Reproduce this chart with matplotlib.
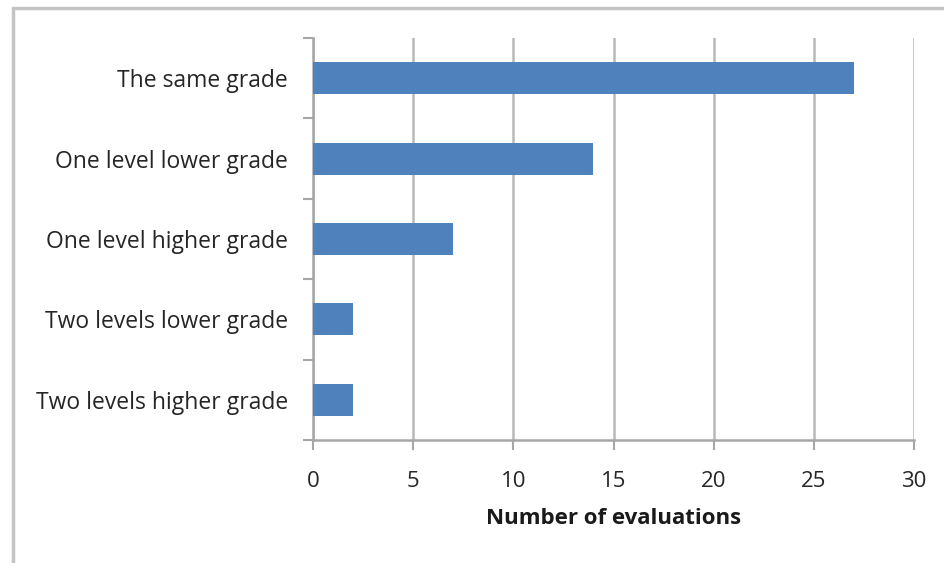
import matplotlib.pyplot as plt
from matplotlib.patches import Rectangle

categories = ['Two levels higher grade', 'Two levels lower grade', 'One level higher grade',
              'One level lower grade', 'The same grade']
counts = [2, 2, 7, 14, 27]
xticks = [0, 5, 10, 15, 20, 25, 30]

plt.rcParams['font.family'] = ['Open Sans', 'DejaVu Sans']

fig = plt.figure(figsize=(9.44, 5.63), dpi=100)
ax = fig.add_axes([313 / 944, 1 - 440 / 563, (914 - 313) / 944, (440 - 38) / 563])

# outer chart border (cut off on right and bottom)
fig.patches.append(Rectangle((13 / 944, -0.1), 1.2, 1.1 - 8 / 563, transform=fig.transFigure,
                             fill=False, edgecolor='#c4c4c4', linewidth=2.5))

ypos = range(len(categories))
ax.barh(ypos, counts, height=0.4, color='#4f81bd', zorder=3)

ax.set_xlim(0, 30)
ax.set_ylim(-0.5, len(categories) - 0.5)
ax.set_xticks(xticks)
ax.set_xticklabels([str(t) for t in xticks], fontsize=16, color='#262626')
ax.set_yticks([i - 0.5 for i in range(len(categories) + 1)])
ax.set_yticklabels([])
ax.set_yticks(list(ypos), minor=True)
ax.set_yticklabels(categories, minor=True, fontsize=16.5, color='#262626')
ax.tick_params(axis='y', which='minor', length=0, pad=18)
ax.tick_params(axis='y', which='major', length=7, width=1.5, color='#a6a6a6')
ax.tick_params(axis='x', length=7, width=1.5, color='#a6a6a6', pad=15)

ax.grid(axis='x', color='#b8b8b8', linewidth=1.8, zorder=0)
for side in ['top', 'right']:
    ax.spines[side].set_visible(False)
for side in ['left', 'bottom']:
    ax.spines[side].set_color('#a6a6a6')
    ax.spines[side].set_linewidth(1.8)

ax.set_xlabel('Number of evaluations', fontsize=16, fontweight='bold', color='#1a1a1a', labelpad=12)

fig.savefig('out.png', dpi=100)
